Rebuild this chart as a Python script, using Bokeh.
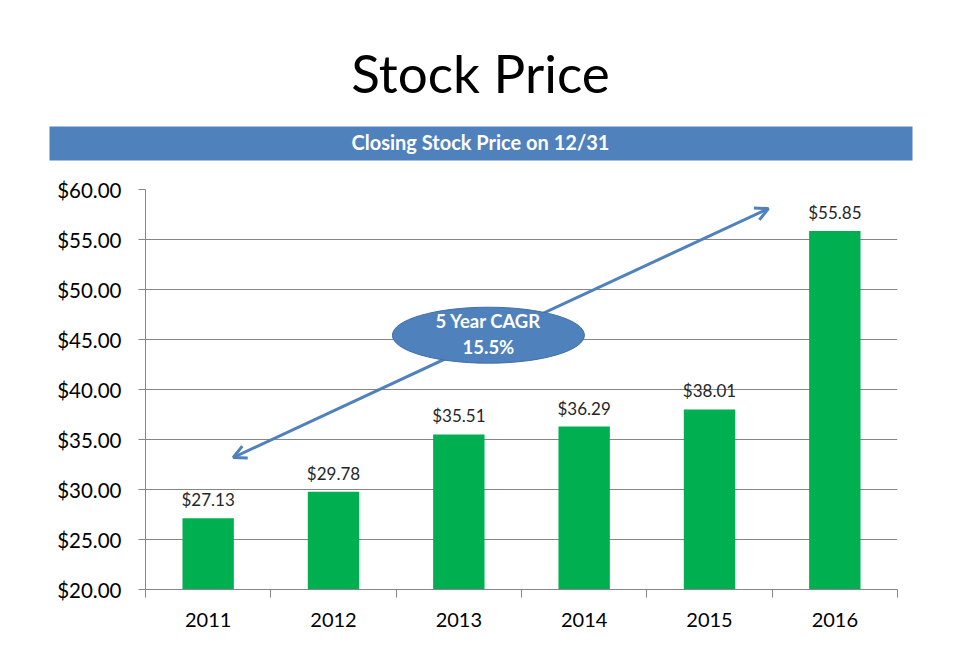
from bokeh.plotting import figure
from bokeh.layouts import column
from bokeh.models import Range1d, FixedTicker, NumeralTickFormatter, Arrow, OpenHead
from bokeh.core.properties import value
from bokeh.embed import file_html
from bokeh.resources import INLINE

# ---- data ----
title_text = "Stock Price"
banner_text = "Closing Stock Price on 12/31"
years = ["2011", "2012", "2013", "2014", "2015", "2016"]
prices = [27.13, 29.78, 35.51, 36.29, 38.01, 55.85]
price_labels = ["$%.2f" % v for v in prices]
y_ticks = [20, 25, 30, 35, 40, 45, 50, 55, 60]
cagr_text = ["5 Year CAGR", "15.5%"]
# annotation placement (data coordinates)
arrow_start = (0.70, 33.2)
arrow_end = (4.97, 58.1)
bubble_center = (2.736, 45.43)
bubble_size = (1.532, 5.6)

FONT = "Lato"
BLUE = "#4F81BD"
GREEN = "#00B050"
GREY = "#868686"

HEAD_H = 170

# ---- header (title + banner), pixel coordinate space ----
head = figure(width=960, height=HEAD_H, x_range=Range1d(0, 960), y_range=Range1d(HEAD_H, 0),
              output_backend="svg", toolbar_location=None, min_border=0)
head.frame_align = False
head.axis.visible = False
head.grid.visible = False
head.outline_line_color = None
head.quad(left=[49], right=[912], top=[126], bottom=[160], fill_color=BLUE, line_color=None)
head.text(x=[480], y=[72], text=[title_text], text_align="center", text_baseline="alphabetic",
          text_font=value(FONT), text_font_size="53px", text_color="black")
head.text(x=[480], y=[141], text=[banner_text], text_align="center", text_baseline="alphabetic",
          text_font=value(FONT), text_font_size="20px", text_font_style="bold", text_color="white")

# ---- main chart ----
xs = [i + 0.5 for i in range(len(years))]
p = figure(width=960, height=651 - HEAD_H, x_range=Range1d(0, len(years)), y_range=Range1d(20, 60),
           output_backend="svg", toolbar_location=None,
           min_border_left=145, min_border_right=63, min_border_top=189 - HEAD_H, min_border_bottom=62)
p.frame_align = False
p.outline_line_color = None
p.xgrid.visible = False
p.ygrid.ticker = FixedTicker(ticks=y_ticks)
p.ygrid.grid_line_color = GREY
p.ygrid.grid_line_width = 1

p.vbar(x=xs, top=prices, bottom=20, width=0.41, fill_color=GREEN, line_color=None)
p.text(x=xs, y=prices, text=price_labels, y_offset=-8, text_align="center", text_baseline="bottom",
       text_font=value(FONT), text_font_size="17px", text_color="#262626")

arrow = Arrow(start=OpenHead(size=13, line_color=BLUE, line_width=3),
              end=OpenHead(size=13, line_color=BLUE, line_width=3),
              x_start=arrow_start[0], y_start=arrow_start[1], x_end=arrow_end[0], y_end=arrow_end[1],
              line_color=BLUE, line_width=3, level="underlay")
p.add_layout(arrow)

p.ellipse(x=[bubble_center[0]], y=[bubble_center[1]], width=bubble_size[0], height=bubble_size[1],
          fill_color=BLUE, line_color="#3F6EA6", line_width=1)
p.text(x=[bubble_center[0]] * 2, y=[bubble_center[1] + 1.4, bubble_center[1] - 1.2], text=cagr_text,
       text_align="center", text_baseline="middle", text_font=value(FONT), text_font_size="18.5px",
       text_font_style="bold", text_color="white")

xa = p.xaxis[0]
xa.ticker = FixedTicker(ticks=xs, minor_ticks=list(range(len(years) + 1)))
xa.major_label_overrides = {x: y for x, y in zip(xs, years)}
xa.major_tick_line_color = None
xa.major_tick_out = 0
xa.major_tick_in = 0
xa.minor_tick_line_color = GREY
xa.minor_tick_out = 8
xa.minor_tick_in = 0
xa.axis_line_color = GREY
xa.major_label_text_font = FONT
xa.major_label_text_font_size = "20px"
xa.major_label_text_color = "black"
xa.major_label_standoff = 15

ya = p.yaxis[0]
ya.ticker = FixedTicker(ticks=y_ticks)
ya.formatter = NumeralTickFormatter(format="$0.00")
ya.major_tick_line_color = GREY
ya.major_tick_out = 7
ya.major_tick_in = 0
ya.minor_tick_line_color = None
ya.axis_line_color = GREY
ya.major_label_text_font = FONT
ya.major_label_text_font_size = "20.5px"
ya.major_label_text_color = "black"
ya.major_label_standoff = 17

layout = column(head, p, spacing=0)
open("out.html", "w").write(file_html(layout, INLINE))
